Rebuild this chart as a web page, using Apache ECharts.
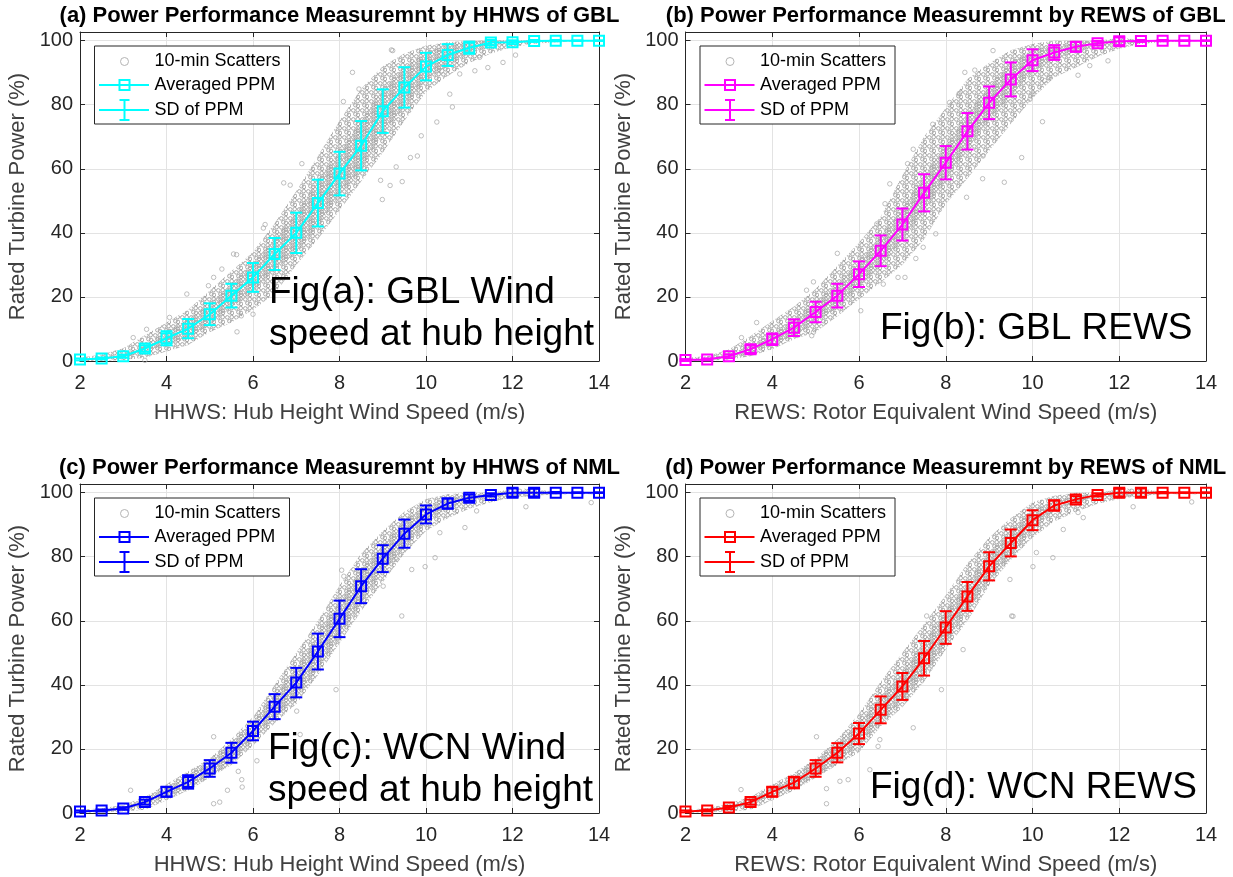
<!DOCTYPE html>
<html>
<head>
<meta charset="utf-8">
<title>Power Performance Measurement</title>
<script src="https://cdn.jsdelivr.net/npm/echarts@6.0.0/dist/echarts.min.js"></script>
<style>
  html, body { margin: 0; padding: 0; background: #fff; }
  #chart { width: 1233px; height: 877px; }
</style>
</head>
<body>
<div id="chart"></div>
<script>
// wind speed bins (m/s)
var windSpeed = [2, 2.5, 3, 3.5, 4, 4.5, 5, 5.5, 6, 6.5, 7, 7.5, 8, 8.5, 9, 9.5, 10, 10.5, 11, 11.5, 12, 12.5, 13, 13.5, 14];

// (a) HHWS of GBL
var meanA  = [0.5, 0.8, 1.5, 3.9, 7.1, 10.1, 14.6, 20.4, 26.1, 33.4, 40.0, 49.3, 58.5, 67.2, 78.0, 85.4, 91.9, 95.5, 97.8, 99.4, 99.5, 99.9, 100, 100, 100];
var sdA    = [0.3, 0.3, 0.5, 1.0, 2.2, 3.0, 3.4, 3.7, 4.5, 5.0, 6.3, 7.3, 6.8, 7.7, 6.8, 6.3, 4.3, 3.4, 1.9, 0.8, 0.6, 0.3, 0.2, 0.1, 0.1];
var upperA = [1, 2, 4, 8, 12, 16, 22, 28, 34, 43, 53, 64, 75, 85, 92, 96, 98.5, 99.5, 100, 100, 100, 100, 100, 100, 100];
var lowerA = [0, 0, 0.3, 1, 3, 5, 9, 12, 16, 21, 30, 38, 47, 56, 65, 75, 84, 89, 93, 96, 98, 99, 99.5, 99.8, 99.8];
var outliersA = [[8.30, 90.1], [9.23, 96.9], [10.25, 74.6], [10.61, 79.3], [9.89, 70.3], [9.64, 63.5], [9.45, 56.0], [9.31, 60.6],
  [8.45, 84.9], [8.09, 81.0], [7.13, 61.6], [6.71, 55.6], [6.86, 54.9], [6.28, 42.6], [6.24, 41.5], [11.43, 91.6], [11.13, 90.6],
  [10.55, 83.3], [10.36, 90.6], [10.78, 89.6], [11.24, 94.8], [11.78, 93.2], [9.80, 64.0], [8.99, 50.4], [9.17, 54.8], [8.95, 56.4],
  [5.62, 33.2], [6.0, 14.6], [5.73, 14.1], [5.09, 26.1], [9.20, 97.1], [12.07, 95.5], [4.07, 13.6], [3.23, 7.3], [3.54, 9.9],
  [4.47, 20.9], [4.97, 23.5], [5.28, 28.7], [5.55, 33.4], [5.63, 9.1], [3.5, 0.2]];

// (b) REWS of GBL
var meanB  = [0.3, 0.5, 1.5, 3.7, 6.8, 10.4, 15.3, 20.4, 27.1, 34.4, 42.6, 52.5, 61.9, 71.7, 80.6, 87.9, 93.9, 96.3, 98.1, 99.2, 99.8, 99.9, 100, 100, 100];
var sdB    = [0.3, 0.3, 0.6, 1.2, 1.8, 2.6, 3.2, 3.7, 4.0, 4.8, 5.0, 5.8, 5.2, 5.7, 5.1, 5.3, 3.4, 2.3, 1.5, 0.7, 1.2, 0.3, 0.2, 0.1, 0.1];
var upperB = [1, 1.5, 3.6, 7.8, 12.5, 17, 22.5, 29.7, 37, 45, 58, 70, 79, 88, 93, 97, 99, 100, 100, 100, 100, 100, 100, 100, 100];
var lowerB = [0, 0.1, 0.5, 1.5, 3.7, 6.8, 9, 14, 19.3, 24.5, 30, 38, 49, 57, 65.6, 74, 82, 88.5, 91.6, 95, 97.5, 99, 99.5, 99.8, 99.8];
var outliersB = [[9.09, 96.9], [8.44, 90.1], [8.67, 90.8], [8.31, 83.5], [8.09, 80.7], [7.70, 73.9], [7.25, 66.1], [7.12, 61.6],
  [6.71, 55.3], [6.60, 49.1], [6.41, 42.8], [9.75, 63.5], [10.23, 74.7], [9.35, 55.8], [8.85, 56.9], [8.86, 64.0], [8.48, 51.1],
  [9.94, 81.7], [10.01, 83.3], [10.28, 87.5], [10.4, 88.5], [11.05, 89.2], [11.32, 92.2], [11.74, 93.7], [3.64, 12.0], [3.29, 7.3],
  [4.79, 22.1], [4.95, 24.7], [5.50, 33.6], [4.95, 9.0], [4.91, 7.9], [6.04, 15.7], [6.90, 26.1], [7.06, 26.1], [6.56, 24.0],
  [7.48, 35.5], [7.31, 32.0], [7.77, 39.7]];

// (c) HHWS of NML
var meanC  = [0.5, 0.8, 1.4, 3.4, 6.6, 9.7, 13.9, 18.8, 25.6, 33.2, 40.7, 50.4, 60.6, 70.8, 79.4, 87.2, 93.2, 96.6, 98.4, 99.3, 100, 100, 100, 100, 100];
var sdC    = [0.3, 0.3, 0.4, 0.8, 1.5, 2.1, 2.6, 3.1, 2.9, 3.9, 4.6, 5.6, 5.7, 5.3, 4.2, 4.4, 2.8, 1.6, 1.0, 0.5, 1.3, 1.2, 0.2, 0.1, 0.1];
var upperC = [1, 1.5, 2.5, 5, 9, 13, 17, 23, 30, 40, 50, 60, 71, 81, 88, 94, 98, 99.5, 100, 100, 100, 100, 100, 100, 100];
var lowerC = [0, 0.2, 0.5, 1, 4, 7, 11, 15, 21, 28, 34, 43, 53, 63, 72, 81, 88, 92, 95, 97, 98.5, 99, 99.5, 99.5, 99.5];
var outliersC = [[8.05, 75.8], [9.44, 61.5], [9.98, 76.9], [10.21, 79.7], [10.90, 89.1], [11.17, 94.3], [12.31, 95.6], [7.92, 38.5],
  [7.01, 31.8], [6.93, 35.9], [7.09, 24.5], [9.32, 79.2], [9.01, 70.8], [9.67, 76.0], [5.66, 13.0], [5.74, 10.4], [10.32, 87.5],
  [5.09, 2.9], [5.23, 3.4], [6.09, 16.3], [5.75, 8.1], [5.41, 7.1], [5.09, 23.8], [3.17, 7.1], [13.82, 96.9], [8.10, 73.9]];

// (d) REWS of NML
var meanD  = [0.5, 0.8, 1.7, 3.4, 6.6, 9.5, 13.9, 18.8, 24.8, 32.2, 39.5, 48.3, 57.9, 67.6, 77.0, 84.3, 91.4, 96.0, 97.9, 99.3, 100, 100, 100, 100, 100];
var sdD    = [0.3, 0.3, 0.5, 0.8, 1.4, 1.8, 2.6, 3.0, 3.3, 4.2, 4.2, 5.4, 5.1, 4.5, 4.4, 4.2, 3.1, 1.6, 1.0, 0.5, 1.2, 1.3, 0.2, 0.1, 0.1];
var upperD = [1, 1.5, 3, 5, 9, 12.5, 17, 23, 31, 41, 50, 59, 68, 78, 86, 92, 97, 99, 100, 100, 100, 100, 100, 100, 100];
var lowerD = [0, 0.2, 0.5, 1, 4, 7, 11, 15, 19, 27, 33, 41, 51, 60, 71, 79, 86, 91, 94, 96.5, 98, 99, 99.5, 99.5, 99.5];
var outliersD = [[9.52, 61.5], [10.47, 79.7], [10.01, 76.9], [10.09, 81.3], [11.17, 92.2], [11.05, 93.8], [12.32, 95.6], [10.71, 88.5],
  [8.40, 51.0], [7.90, 38.5], [7.25, 26.6], [7.17, 41.7], [7.10, 36.5], [6.48, 22.9], [6.25, 13.5], [6.44, 20.8], [5.56, 9.9],
  [5.75, 10.4], [9.48, 72.9], [7.56, 61.5], [5.02, 23.8], [5.25, 2.9], [5.25, 7.6], [3.28, 7.3], [9.55, 61.4], [13.67, 97.1]];

var titles = [
  '(a) Power Performance Measuremnt by HHWS of GBL',
  '(b) Power Performance Measuremnt by REWS of GBL',
  '(c) Power Performance Measuremnt by HHWS of NML',
  '(d) Power Performance Measuremnt by REWS of NML'
];
var xNames = [
  'HHWS: Hub Height Wind Speed (m/s)',
  'REWS: Rotor Equivalent Wind Speed (m/s)',
  'HHWS: Hub Height Wind Speed (m/s)',
  'REWS: Rotor Equivalent Wind Speed (m/s)'
];
var yName = 'Rated Turbine Power (%)';
var legendNames = ['10-min Scatters', 'Averaged PPM', 'SD of PPM'];
var notes = [
  ['Fig(a): GBL Wind', 'speed at hub height'],
  ['Fig(b): GBL REWS'],
  ['Fig(c): WCN Wind', 'speed at hub height'],
  ['Fig(d): WCN REWS']
];
var lineColors = ['#00ffff', '#ff00ff', '#0000ff', '#ff0000'];

var FONT = '"Liberation Sans", Arial, Helvetica, sans-serif';
var SCATTER = '#a6a6a6';

// plot boxes (pixels) and annotation placement
var boxes = [
  {left: 80, top: 32, width: 519, height: 329, noteX: 189, noteY: [260.5, 302.5]},
  {left: 685.5, top: 32, width: 520.5, height: 329, noteX: 194.5, noteY: [297]},
  {left: 80, top: 484, width: 519, height: 329, noteX: 188, noteY: [265, 306.5]},
  {left: 685.5, top: 484, width: 520.5, height: 329, noteX: 184.5, noteY: [303.5]}
];

var panels = [
  {mean: meanA, sd: sdA, upper: upperA, lower: lowerA, outliers: outliersA},
  {mean: meanB, sd: sdB, upper: upperB, lower: lowerB, outliers: outliersB},
  {mean: meanC, sd: sdC, upper: upperC, lower: lowerC, outliers: outliersC},
  {mean: meanD, sd: sdD, upper: upperD, lower: lowerD, outliers: outliersD}
];

// texture of small hollow circles standing in for the dense scatter cloud
function circleTile(size, dots) {
  var c = document.createElement('canvas');
  c.width = size; c.height = size;
  var ctx = c.getContext('2d');
  ctx.strokeStyle = SCATTER;
  ctx.lineWidth = 1;
  dots.forEach(function(d){
    ctx.beginPath();
    ctx.arc(d[0], d[1], 1.8, 0, Math.PI * 2);
    ctx.stroke();
  });
  return {image: c, repeat: 'repeat'};
}
var outerCloud = circleTile(9, [[2.3, 2.4], [6.7, 2.1], [4.4, 6.2], [7.0, 6.9]]);
var innerCloud = circleTile(9, [[4.5, 2.2], [2.2, 6.8], [6.8, 4.7]]);

var grids = [], xAxes = [], yAxes = [], series = [], graphics = [];

boxes.forEach(function(b, i){
  var p = panels[i];
  var color = lineColors[i];
  grids.push({left: b.left, top: b.top, width: b.width, height: b.height, containLabel: false, outerBoundsMode: 'none'});

  var tickStyle = {inside: true, length: 5, lineStyle: {color: '#262626'}};
  var lineStyle = {show: true, onZero: false, lineStyle: {color: '#262626', width: 1}};
  xAxes.push({
    gridIndex: i, type: 'value', min: 2, max: 14, interval: 2, position: 'bottom',
    name: xNames[i], nameLocation: 'middle', nameGap: 41,
    nameTextStyle: {fontSize: 22, color: '#404040', fontFamily: FONT},
    axisLine: lineStyle, axisTick: tickStyle,
    axisLabel: {fontSize: 20, color: '#262626', fontFamily: FONT, margin: 12},
    splitLine: {show: true, lineStyle: {color: '#e3e3e3', width: 1}}
  });
  xAxes.push({
    gridIndex: i, type: 'value', min: 2, max: 14, interval: 2, position: 'top',
    axisLine: lineStyle, axisTick: tickStyle, axisLabel: {show: false}, splitLine: {show: false}
  });
  yAxes.push({
    gridIndex: i, type: 'value', min: 0, max: 102.7, interval: 20, position: 'left',
    name: yName, nameLocation: 'middle', nameGap: 51, nameRotate: 90,
    nameTextStyle: {fontSize: 22, color: '#404040', fontFamily: FONT},
    axisLine: lineStyle, axisTick: tickStyle,
    axisLabel: {fontSize: 20, color: '#262626', fontFamily: FONT, margin: 7, showMaxLabel: false,
      formatter: function(v){ return v > 100 ? '' : String(v); }},
    splitLine: {show: true, lineStyle: {color: '#e3e3e3', width: 1}}
  });
  yAxes.push({
    gridIndex: i, type: 'value', min: 0, max: 102.7, interval: 20, position: 'right',
    axisLine: lineStyle, axisTick: tickStyle, axisLabel: {show: false}, splitLine: {show: false}
  });

  var xi = i * 2, yi = i * 2;

  // scatter cloud: read envelope, denser within one SD of the average
  series.push({
    type: 'custom', xAxisIndex: xi, yAxisIndex: yi, z: 1, silent: true,
    data: [[windSpeed[0], p.lower[0]]],
    renderItem: function(params, api){
      var outer = [], inner = [], k;
      for (k = 0; k < windSpeed.length; k++) {
        outer.push(api.coord([windSpeed[k], p.upper[k]]));
        inner.push(api.coord([windSpeed[k], p.mean[k] + p.sd[k]]));
      }
      for (k = windSpeed.length - 1; k >= 0; k--) {
        outer.push(api.coord([windSpeed[k], p.lower[k]]));
        inner.push(api.coord([windSpeed[k], p.mean[k] - p.sd[k]]));
      }
      return {type: 'group', children: [
        {type: 'polygon', shape: {points: outer}, style: {fill: outerCloud, stroke: null}},
        {type: 'polygon', shape: {points: inner}, style: {fill: innerCloud, stroke: null}}
      ]};
    }
  });
  // scattered outliers
  series.push({
    type: 'scatter', xAxisIndex: xi, yAxisIndex: yi, z: 2, silent: true,
    data: p.outliers, symbol: 'circle', symbolSize: 4.5,
    itemStyle: {color: 'rgba(0,0,0,0)', borderColor: SCATTER, borderWidth: 0.9}
  });
  // averaged PPM line
  series.push({
    type: 'line', xAxisIndex: xi, yAxisIndex: yi, z: 3, silent: true, clip: false,
    data: windSpeed.map(function(x, k){ return [x, p.mean[k]]; }),
    symbol: 'none', lineStyle: {color: color, width: 2}
  });
  // SD error bars and hollow square markers
  series.push({
    type: 'custom', xAxisIndex: xi, yAxisIndex: yi, z: 4, silent: true, clip: false,
    data: windSpeed.map(function(x, k){ return [x, p.mean[k], p.sd[k]]; }),
    renderItem: function(params, api){
      var x = api.value(0), m = api.value(1), s = api.value(2);
      var c = api.coord([x, m]), hi = api.coord([x, m + s]), lo = api.coord([x, m - s]);
      var st = {stroke: color, lineWidth: 2, fill: null};
      return {type: 'group', children: [
        {type: 'line', shape: {x1: c[0], y1: hi[1], x2: c[0], y2: lo[1]}, style: st},
        {type: 'line', shape: {x1: c[0] - 6, y1: hi[1], x2: c[0] + 6, y2: hi[1]}, style: st},
        {type: 'line', shape: {x1: c[0] - 6, y1: lo[1], x2: c[0] + 6, y2: lo[1]}, style: st},
        {type: 'rect', shape: {x: c[0] - 5, y: c[1] - 5, width: 10, height: 10}, style: st}
      ]};
    }
  });

  // title
  graphics.push({
    type: 'text', x: b.left + b.width / 2, y: b.top - 16, z: 20,
    style: {text: titles[i], fontSize: 22, fontWeight: 'bold', fontFamily: FONT, fill: '#000', align: 'center', verticalAlign: 'middle'}
  });

  // legend
  var lx = b.left + 14.5, ly = b.top + 14;
  var legendStyle = {stroke: color, lineWidth: 2, fill: null};
  graphics.push({type: 'rect', z: 20, shape: {x: lx, y: ly, width: 195, height: 78}, style: {fill: '#fff', stroke: '#262626', lineWidth: 1}});
  graphics.push({type: 'circle', z: 21, shape: {cx: lx + 30, cy: ly + 15.5, r: 4}, style: {fill: null, stroke: '#b4b4b4', lineWidth: 1}});
  graphics.push({type: 'line', z: 21, shape: {x1: lx + 4.5, y1: ly + 39, x2: lx + 54.5, y2: ly + 39}, style: legendStyle});
  graphics.push({type: 'rect', z: 21, shape: {x: lx + 25, y: ly + 34, width: 10, height: 10}, style: legendStyle});
  graphics.push({type: 'line', z: 21, shape: {x1: lx + 4.5, y1: ly + 64, x2: lx + 54.5, y2: ly + 64}, style: legendStyle});
  graphics.push({type: 'line', z: 21, shape: {x1: lx + 30, y1: ly + 54, x2: lx + 30, y2: ly + 74}, style: legendStyle});
  graphics.push({type: 'line', z: 21, shape: {x1: lx + 25, y1: ly + 54, x2: lx + 35, y2: ly + 54}, style: legendStyle});
  graphics.push({type: 'line', z: 21, shape: {x1: lx + 25, y1: ly + 74, x2: lx + 35, y2: ly + 74}, style: legendStyle});
  [15.5, 39, 64].forEach(function(dy, r){
    graphics.push({
      type: 'text', z: 21, x: lx + 60, y: ly + dy,
      style: {text: legendNames[r], fontSize: 18, fontFamily: FONT, fill: '#000', align: 'left', verticalAlign: 'middle'}
    });
  });

  // big annotation
  notes[i].forEach(function(t, r){
    graphics.push({
      type: 'text', z: 22, x: b.left + b.noteX, y: b.top + b.noteY[r],
      style: {text: t, fontSize: 37, fontFamily: FONT, fill: '#000', align: 'left', verticalAlign: 'middle'}
    });
  });
});

var chart = echarts.init(document.getElementById('chart'), null, {renderer: 'canvas'});
chart.setOption({
  animation: false,
  backgroundColor: '#fff',
  grid: grids,
  xAxis: xAxes,
  yAxis: yAxes,
  series: series,
  graphic: graphics
});
</script>
</body>
</html>
